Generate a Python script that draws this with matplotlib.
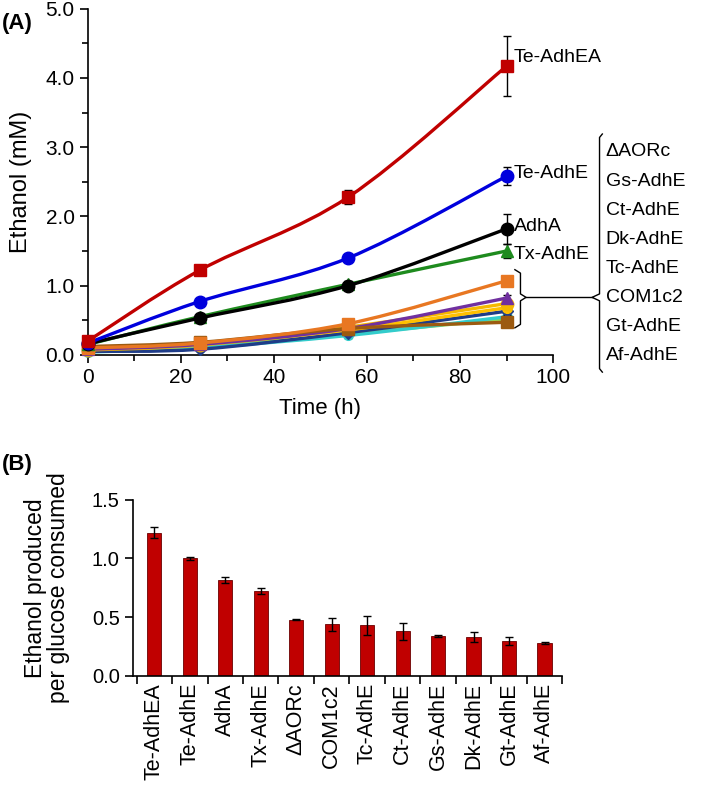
import matplotlib
matplotlib.use("Agg")
import matplotlib.pyplot as plt
import numpy as np
from matplotlib.path import Path
from matplotlib.patches import PathPatch

plt.rcParams['font.family'] = ['Liberation Sans', 'DejaVu Sans']

# ---------------- Panel A data ----------------
time_h = [0, 24, 56, 90]
main_names = ["Te-AdhEA", "Te-AdhE", "AdhA", "Tx-AdhE"]
te_adhea = [0.20, 1.22, 2.28, 4.17]
te_adhea_err = [0.03, 0.05, 0.10, 0.43]
te_adhe = [0.17, 0.77, 1.40, 2.58]
te_adhe_err = [0.02, 0.03, 0.04, 0.13]
adha = [0.16, 0.53, 1.00, 1.82]
adha_err = [0.02, 0.06, 0.05, 0.22]
tx_adhe = [0.15, 0.55, 1.02, 1.50]
tx_adhe_err = [0.02, 0.03, 0.04, 0.10]

grp_names = ["ΔAORc", "Gs-AdhE", "Ct-AdhE", "Dk-AdhE", "Tc-AdhE", "COM1c2", "Gt-AdhE", "Af-AdhE"]
grp_orange = [0.10, 0.17, 0.45, 1.07]
grp_purple = [0.08, 0.15, 0.38, 0.82]
grp_gold = [0.07, 0.14, 0.40, 0.74]
grp_yellow = [0.09, 0.15, 0.36, 0.68]
grp_navy = [0.05, 0.08, 0.32, 0.63]
grp_cyan = [0.04, 0.10, 0.28, 0.55]
grp_lgreen = [0.06, 0.12, 0.30, 0.52]
grp_brown = [0.12, 0.18, 0.38, 0.47]
grp_err = [0.01, 0.02, 0.03, 0.05]

# ---------------- Panel B data ----------------
strains = ["Te-AdhEA", "Te-AdhE", "AdhA", "Tx-AdhE", "ΔAORc", "COM1c2", "Tc-AdhE",
           "Ct-AdhE", "Gs-AdhE", "Dk-AdhE", "Gt-AdhE", "Af-AdhE"]
yield_vals = [1.22, 1.00, 0.82, 0.72, 0.48, 0.44, 0.43, 0.38, 0.343, 0.334, 0.30, 0.28]
yield_err = [0.045, 0.01, 0.025, 0.025, 0.006, 0.055, 0.084, 0.075, 0.008, 0.042, 0.034, 0.006]

fig = plt.figure(figsize=(7.09, 7.92), dpi=100)

axA = fig.add_axes([0.124, 0.552, 0.656, 0.437])
axB = fig.add_axes([0.1876, 0.1465, 0.6054, 0.2225])


def smooth_line(ax, x, y, color, lw=2.4, z=2):
    x = np.asarray(x, float)
    y = np.asarray(y, float)
    n = len(x)
    verts = [(x[0], y[0])]
    codes = [Path.MOVETO]
    for i in range(n - 1):
        p0 = np.array([x[max(i - 1, 0)], y[max(i - 1, 0)]])
        p1 = np.array([x[i], y[i]])
        p2 = np.array([x[i + 1], y[i + 1]])
        p3 = np.array([x[min(i + 2, n - 1)], y[min(i + 2, n - 1)]])
        c1 = p1 + (p2 - p0) / 6.0
        c2 = p2 - (p3 - p1) / 6.0
        verts += [tuple(c1), tuple(c2), tuple(p2)]
        codes += [Path.CURVE4] * 3
    ax.add_patch(PathPatch(Path(verts, codes), fill=False, edgecolor=color,
                           lw=lw, zorder=z, capstyle='round', joinstyle='round'))


series = [
    (grp_lgreen, "#92D050", "o", 7),
    (grp_cyan, "#33CCCC", "o", 7),
    (grp_navy, "#1F3C88", "D", 6),
    (grp_yellow, "#FFC000", "o", 7),
    (grp_gold, "#F5B800", "o", 9),
    (grp_purple, "#7030A0", "^", 8),
    (grp_brown, "#9C5A10", "s", 9),
    (grp_orange, "#E87722", "s", 9),
    (tx_adhe, "#1E8B1E", "^", 8),
    (adha, "#000000", "o", 9),
    (te_adhe, "#0000DD", "o", 9),
    (te_adhea, "#C00000", "s", 9),
]
errs = [grp_err] * 8 + [tx_adhe_err, adha_err, te_adhe_err, te_adhea_err]

for k, ((vals, col, mk, ms), e) in enumerate(zip(series, errs)):
    z = 3 + k
    smooth_line(axA, time_h, vals, col, z=z)
    axA.errorbar(time_h, vals, yerr=e, fmt='none', ecolor='black', elinewidth=1.0,
                 capsize=3, capthick=1.0, zorder=z)
    axA.plot(time_h, vals, linestyle='none', marker=mk, ms=ms, color=col,
             markeredgecolor=col, zorder=z + 0.5, clip_on=False)

axA.set_xlim(0, 100)
axA.set_ylim(0, 5.0)
axA.set_xticks(np.arange(0, 101, 20))
axA.set_xticks(np.arange(0, 101, 10), minor=True)
axA.set_yticks(np.arange(0, 5.01, 1.0))
axA.set_yticks(np.arange(0, 5.01, 0.5), minor=True)
axA.set_yticklabels([f"{v:.1f}" for v in np.arange(0, 5.01, 1.0)])
for s in ["top", "right"]:
    axA.spines[s].set_visible(False)
for s in ["left", "bottom"]:
    axA.spines[s].set_linewidth(1.2)
axA.tick_params(axis='both', which='major', direction='out', length=6, width=1.2, labelsize=15)
axA.tick_params(axis='both', which='minor', direction='out', length=4, width=1.2)
axA.set_xlabel("Time (h)", fontsize=16, labelpad=8)
axA.set_ylabel("Ethanol (mM)", fontsize=17, labelpad=10)

# right-side labels for main series
for name, vals, dy in zip(main_names, [te_adhea, te_adhe, adha, tx_adhe], [0.12, 0.04, 0.04, -0.05]):
    axA.text(91.6, vals[-1] + dy, name, fontsize=14, va='center', ha='left', clip_on=False)

# small brace grouping the lower series
bx0, btop, bbot, bmid = 91.8, 1.23, 0.39, 0.83
axA.plot([bx0, bx0 + 1.2, bx0 + 1.2, bx0 + 2.4, bx0 + 1.2, bx0 + 1.2, bx0],
         [btop, btop - 0.05, bmid + 0.05, bmid, bmid - 0.05, bbot + 0.05, bbot],
         color='black', lw=1.0, clip_on=False)
# connector to big bracket
big_x = 110.0
axA.plot([bx0 + 2.4, big_x - 1.6], [bmid, bmid], color='black', lw=1.0, clip_on=False)
# big bracket
gtop, gbot = 3.19, -0.25
axA.plot([big_x + 0.6, big_x, big_x, big_x - 1.6, big_x, big_x, big_x + 0.6],
         [gtop, gtop - 0.05, bmid + 0.05, bmid, bmid - 0.05, gbot + 0.05, gbot],
         color='black', lw=1.0, clip_on=False)
ys = np.linspace(2.93, -0.01, len(grp_names))
for name, yy in zip(grp_names, ys):
    axA.text(big_x + 1.3, yy, name, fontsize=14, va='center', ha='left', clip_on=False)

fig.text(0.003, 0.970, "(A)", fontsize=16, fontweight='bold', va='center', ha='left')

# ---------------- Panel B ----------------
xpos = np.arange(len(strains))
axB.bar(xpos, yield_vals, width=0.4, color='#C00000', edgecolor='#6B0000', linewidth=0.6, zorder=2)
axB.errorbar(xpos, yield_vals, yerr=yield_err, fmt='none', ecolor='black', elinewidth=1.0,
             capsize=3, capthick=1.0, zorder=3)
axB.set_xlim(-0.6, len(strains) - 0.5)
axB.set_ylim(0, 1.5)
axB.set_yticks([0, 0.5, 1.0, 1.5])
axB.set_yticklabels(["0.0", "0.5", "1.0", "1.5"])
axB.set_xticks(np.arange(-0.5, len(strains), 1.0))
axB.set_xticklabels([])
axB.set_xticks(xpos, minor=True)
axB.set_xticklabels(strains, minor=True, rotation=90, fontsize=15.5)
axB.tick_params(axis='x', which='minor', length=0, pad=5)
axB.tick_params(axis='x', which='major', direction='out', length=6, width=1.2)
axB.tick_params(axis='y', which='major', direction='out', length=6, width=1.2, labelsize=14.5)
for s in ["top", "right"]:
    axB.spines[s].set_visible(False)
for s in ["left", "bottom"]:
    axB.spines[s].set_linewidth(1.2)
axB.set_ylabel("Ethanol produced\nper glucose consumed", fontsize=16.5, labelpad=16,
               linespacing=1.0)
fig.text(0.003, 0.414, "(B)", fontsize=16, fontweight='bold', va='center', ha='left')

fig.savefig("out.png", dpi=100)
